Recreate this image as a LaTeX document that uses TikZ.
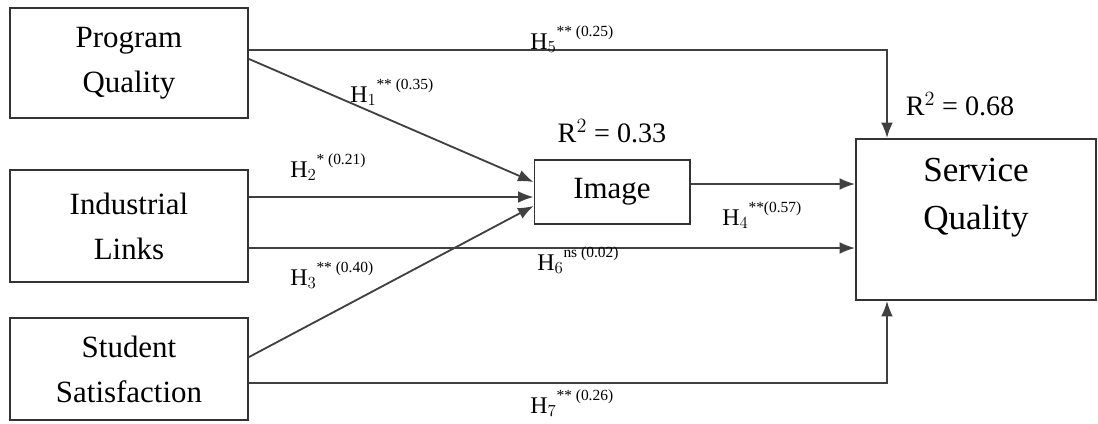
\documentclass[tikz,border=0pt]{standalone}
\usepackage{fontspec}
\setmainfont{Liberation Serif}
\usetikzlibrary{arrows.meta}
\newcommand{\hyp}[2]{H$_{#1}$\raisebox{1.15ex}{\fontsize{11}{12}\selectfont #2}}
\tikzset{
  >={Latex[length=11pt, width=8.5pt]},
  construct/.style={draw=black!80, line width=1.4pt, minimum width=5.95cm,
    align=center, font=\fontsize{22}{32}\selectfont},
  path/.style={->, draw=black!75, line width=1.3pt},
  coef/.style={font=\fontsize{17}{20}\selectfont, inner sep=0pt, anchor=base west},
  rsq/.style={font=\fontsize{20}{24}\selectfont, inner sep=0pt},
}

\begin{document}
\begin{tikzpicture}[x=0.025cm, y=-0.025cm]
        \useasboundingbox (0,0) rectangle (1098,423);

        % constructs
        \node[construct, minimum height=2.75cm] (pq) at (129,63) {Program\\Quality};
        \node[construct, minimum height=2.8cm] (il) at (129,226) {Industrial\\Links};
        \node[construct, minimum height=2.55cm] (ss) at (129,369) {Student\\Satisfaction};
        \node[construct, minimum width=3.875cm, minimum height=1.6cm] (img) at (612,192) {Image};
        \node[construct, minimum width=6.0cm, minimum height=4.025cm,
              font=\fontsize{25}{34}\selectfont] (sq) at (976,219.5) {Service\\Quality\\[0.1cm]};

        % r squared
        \node[rsq] (r1) at (612,131) {R$^2$ = 0.33};
        \node[rsq] (r2) at (960,104) {R$^2$ = 0.68};

        % paths
        \draw[path] (pq.east |- 0,50) -| (887,0 |- sq.north);
        \draw[path] (pq.east |- 0,59) -- (img.west |- 0,182);
        \draw[path] (il.east |- 0,197) -- (img.west |- 0,197);
        \draw[path] (ss.east |- 0,357) -- (img.west |- 0,206);
        \draw[path] (img.east |- 0,184) -- (sq.west |- 0,184);
        \draw[path] (il.east |- 0,248) -- (sq.west |- 0,248);
        \draw[path] (ss.east |- 0,383) -| (887,0 |- sq.south);

        % coefficients
        \node[coef] (h5) at (530,49) {\hyp{5}{** (0.25)}};
        \node[coef] (h1) at (350,102) {\hyp{1}{** (0.35)}};
        \node[coef] (h2) at (290,177) {\hyp{2}{* (0.21)}};
        \node[coef] (h4) at (722,225) {\hyp{4}{**(0.57)}};
        \node[coef] (h6) at (537,270) {\hyp{6}{ns (0.02)}};
        \node[coef] (h3) at (290,285) {\hyp{3}{** (0.40)}};
        \node[coef] (h7) at (530,413) {\hyp{7}{** (0.26)}};

      \end{tikzpicture}
\end{document}
